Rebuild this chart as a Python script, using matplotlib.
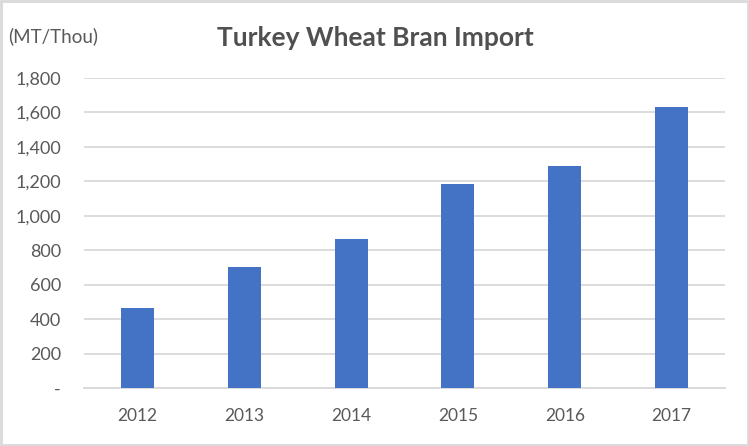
import matplotlib
matplotlib.use("Agg")
import matplotlib.pyplot as plt
from matplotlib.patches import Rectangle
from matplotlib.ticker import FuncFormatter

years = ["2012", "2013", "2014", "2015", "2016", "2017"]
imports = [464, 703, 866, 1185, 1289, 1632]
y_ticks = [0, 200, 400, 600, 800, 1000, 1200, 1400, 1600, 1800]

plt.rcParams['font.family'] = ['Lato', 'DejaVu Sans']

fig = plt.figure(figsize=(7.49, 4.46), dpi=100)
fig.patches.append(Rectangle((0.002, 0.003), 0.996, 0.994, transform=fig.transFigure,
                             fill=False, edgecolor='#d9d9d9', linewidth=2))
ax = fig.add_axes([84/749, 1-388.3/446, (725-84)/749, (388.3-78)/446])

x = range(len(years))
ax.bar(x, imports, width=0.31, color='#4472C4', zorder=3)
ax.set_xlim(-0.5, len(years)-0.5)
ax.set_ylim(0, 1800)
ax.set_yticks(y_ticks)
ax.yaxis.set_major_formatter(FuncFormatter(lambda v, p: '-' if v == 0 else f'{int(v):,}'))
ax.set_xticks(list(x))
ax.set_xticklabels(years)
ax.grid(axis='y', color='#d9d9d9', linewidth=1.3, zorder=0)
for s in ['top', 'right', 'left']:
    ax.spines[s].set_visible(False)
ax.spines['bottom'].set_color('#d9d9d9')
ax.spines['bottom'].set_linewidth(1.3)
ax.tick_params(axis='y', length=0, labelsize=13, colors='#595959', pad=16.5)
ax.tick_params(axis='x', length=0, labelsize=12.5, colors='#595959', pad=14)

fig.text(375/749, 1-38/446, 'Turkey Wheat Bran Import', ha='center', va='center',
         fontsize=19, fontweight='bold', color='#505050')
fig.text(8/749, 1-36/446, '(MT/Thou)', ha='left', va='center', fontsize=13.5, color='#595959')

fig.savefig('out.png', dpi=100)
